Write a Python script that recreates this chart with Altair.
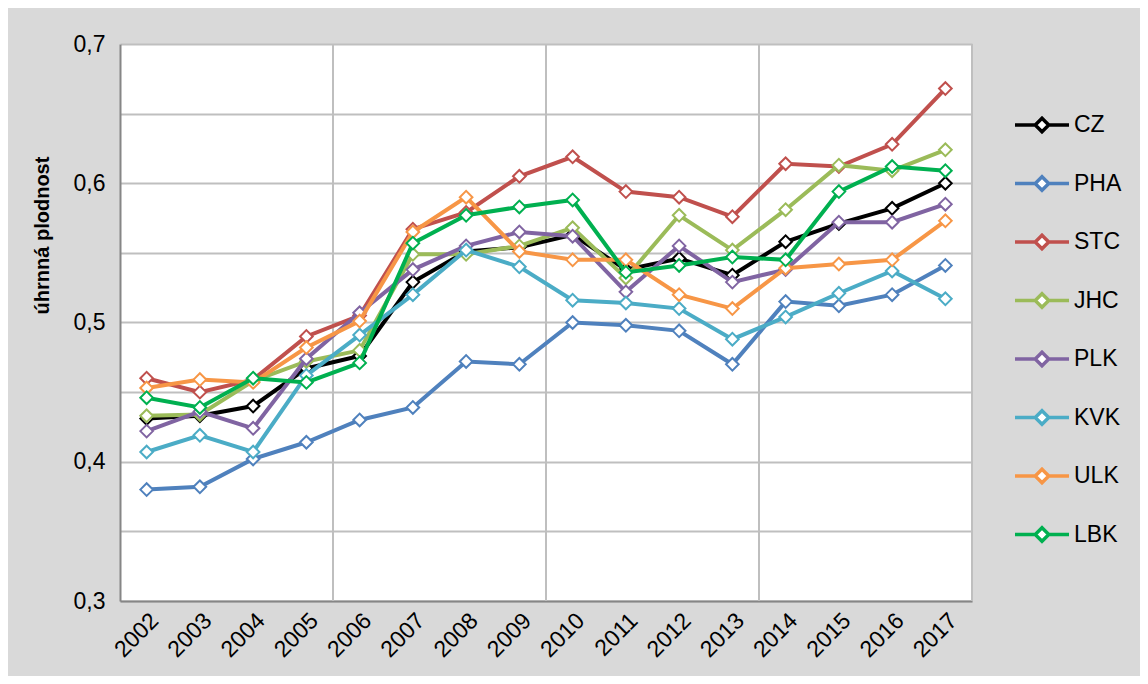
import altair as alt
import pandas as pd

years = list(range(2002, 2018))
series = ["CZ", "PHA", "STC", "JHC", "PLK", "KVK", "ULK", "LBK"]
colors = ["#000000", "#4F81BD", "#C0504D", "#9BBB59", "#8064A2", "#4BACC6", "#F79646", "#00B050"]

cz  = [0.431, 0.433, 0.440, 0.467, 0.476, 0.529, 0.551, 0.554, 0.563, 0.538, 0.546, 0.534, 0.558, 0.571, 0.582, 0.600]
pha = [0.380, 0.382, 0.402, 0.414, 0.430, 0.439, 0.472, 0.470, 0.500, 0.498, 0.494, 0.470, 0.515, 0.512, 0.520, 0.541]
stc = [0.460, 0.450, 0.459, 0.490, 0.505, 0.567, 0.579, 0.605, 0.619, 0.594, 0.590, 0.576, 0.614, 0.612, 0.628, 0.668]
jhc = [0.433, 0.434, 0.458, 0.472, 0.480, 0.549, 0.549, 0.555, 0.568, 0.532, 0.577, 0.552, 0.581, 0.613, 0.609, 0.624]
plk = [0.422, 0.436, 0.424, 0.474, 0.507, 0.538, 0.555, 0.565, 0.562, 0.522, 0.555, 0.529, 0.538, 0.572, 0.572, 0.585]
kvk = [0.407, 0.419, 0.407, 0.462, 0.491, 0.520, 0.552, 0.540, 0.516, 0.514, 0.510, 0.488, 0.504, 0.521, 0.537, 0.517]
ulk = [0.453, 0.459, 0.457, 0.482, 0.501, 0.565, 0.590, 0.551, 0.545, 0.545, 0.520, 0.510, 0.539, 0.542, 0.545, 0.573]
lbk = [0.446, 0.439, 0.460, 0.457, 0.471, 0.557, 0.577, 0.583, 0.588, 0.536, 0.541, 0.547, 0.545, 0.594, 0.612, 0.609]

values = [cz, pha, stc, jhc, plk, kvk, ulk, lbk]
y_ticks = [0.3, 0.35, 0.4, 0.45, 0.5, 0.55, 0.6, 0.65, 0.7]
x_grid = [2005.5, 2009.5, 2013.5, 2017.5]  # category-boundary gridlines (every 4 years)

rows = []
for s, vals in zip(series, values):
    for yr, v in zip(years, vals):
        rows.append({"series": s, "year": yr, "value": v})
df = pd.DataFrame(rows)
grid_df = pd.DataFrame({"year": x_grid})

FONT = "Liberation Sans"
GRID = "#BFBFBF"
AXIS = "#868686"

x_enc = alt.X(
    "year:Q",
    title=None,
    scale=alt.Scale(domain=[2001.5, 2017.5], nice=False, zero=False),
    axis=alt.Axis(
        values=years, format="d", labelAngle=-45, ticks=False, grid=False,
        domainColor=AXIS, domainWidth=2, labelFontSize=23, labelColor="black",
        labelPadding=8, labelFont=FONT,
    ),
)
y_enc = alt.Y(
    "value:Q",
    title="úhrnná plodnost",
    scale=alt.Scale(domain=[0.3, 0.7], nice=False, zero=False),
    axis=alt.Axis(
        values=y_ticks,
        labelExpr="abs(datum.value*10 - round(datum.value*10)) < 0.01 ? replace(format(datum.value, '.1f'), '.', ',') : ''",
        ticks=False, grid=True, gridColor=GRID, gridWidth=2,
        domainColor=AXIS, domainWidth=2, labelFontSize=23, labelColor="black",
        labelPadding=15, labelFont=FONT,
        titleFont=FONT, titleFontSize=20, titleFontWeight="bold", titleColor="black",
        titleX=-68, titleY=191,
    ),
)

legend = alt.Legend(
    title=None, orient="none", legendX=893, legendY=52,
    symbolType="M-1,0H-0.25M0.25,0H1M0,-0.25L0.25,0L0,0.25L-0.25,0Z",
    symbolSize=2916, symbolStrokeWidth=3.5, symbolFillColor="white",
    labelFontSize=23, labelFont=FONT, labelColor="black", labelOffset=3,
    rowPadding=15.5,
)
color_scale = alt.Scale(domain=series, range=colors)

grid_layer = alt.Chart(grid_df).mark_rule(color=GRID, strokeWidth=2).encode(x=x_enc)

layers = [grid_layer]
for s in series:
    d = df[df["series"] == s]
    base = alt.Chart(d).encode(
        x=x_enc, y=y_enc,
        color=alt.Color("series:N", scale=color_scale, legend=legend),
    )
    layers.append(base.mark_line(strokeWidth=4))
    layers.append(base.mark_point(shape="diamond", filled=False, fill="white",
                                  fillOpacity=1, opacity=1, size=160, strokeWidth=2))

chart = alt.layer(*layers).properties(
    width=852, height=557,
    autosize=alt.AutoSizeParams(type="none"),
    padding={"left": 112, "top": 36, "right": 168, "bottom": 75},
    background="#D9D9D9",
).configure_view(fill="white", stroke=None)

chart.save("out.html", embed_options={"renderer": "svg", "actions": False})
